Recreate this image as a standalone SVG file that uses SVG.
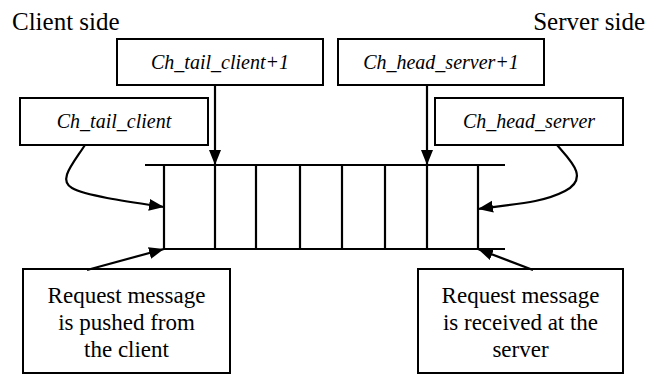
<svg xmlns="http://www.w3.org/2000/svg" width="657" height="374" viewBox="0 0 657 374">
<rect width="657" height="374" fill="#fff"/>
<defs>
<marker id="ah" markerUnits="userSpaceOnUse" markerWidth="16" markerHeight="14" viewBox="0 0 16 14" refX="15" refY="7" orient="auto">
<path d="M0,1 L15,7 L0,13 Z" fill="#000"/>
</marker>
</defs>
<text font-family="Times New Roman" font-size="25" x="12" y="30">Client side</text>
<text font-family="Times New Roman" font-size="25" x="645" y="30" text-anchor="end">Server side</text>
<g id="queue" fill="none" stroke="#000" stroke-width="2.2">
<line x1="145" y1="165" x2="505" y2="165"/>
<line x1="164" y1="249" x2="505" y2="249"/>
<line x1="164" y1="165" x2="164" y2="249"/>
<line x1="215" y1="165" x2="215" y2="249"/>
<line x1="256" y1="165" x2="256" y2="249"/>
<line x1="300" y1="165" x2="300" y2="249"/>
<line x1="342" y1="165" x2="342" y2="249"/>
<line x1="385" y1="165" x2="385" y2="249"/>
<line x1="427" y1="165" x2="427" y2="249"/>
<line x1="478" y1="165" x2="478" y2="249"/>
</g>
<g id="tail1">
<rect fill="#fff" stroke="#000" stroke-width="2" x="117" y="39" width="206" height="46"/>
<text font-family="Times New Roman" font-style="italic" font-size="20" text-anchor="middle" x="220" y="69">Ch_tail_client+1</text>
</g>
<g id="head1">
<rect fill="#fff" stroke="#000" stroke-width="2" x="338" y="39" width="206" height="46"/>
<text font-family="Times New Roman" font-style="italic" font-size="20" text-anchor="middle" x="441" y="69">Ch_head_server+1</text>
</g>
<g id="tail">
<rect fill="#fff" stroke="#000" stroke-width="2" x="20" y="98" width="188" height="47"/>
<text font-family="Times New Roman" font-style="italic" font-size="20" text-anchor="middle" x="114" y="128">Ch_tail_client</text>
</g>
<g id="head">
<rect fill="#fff" stroke="#000" stroke-width="2" x="435" y="98" width="188" height="47"/>
<text font-family="Times New Roman" font-style="italic" font-size="20" text-anchor="middle" x="529" y="128">Ch_head_server</text>
</g>
<g id="pushed">
<rect fill="#fff" stroke="#000" stroke-width="2" x="23" y="269" width="207" height="104"/>
<text font-family="Times New Roman" font-size="23" text-anchor="middle" x="126.5" y="303">Request message</text>
<text font-family="Times New Roman" font-size="23" text-anchor="middle" x="126.5" y="330">is pushed from</text>
<text font-family="Times New Roman" font-size="23" text-anchor="middle" x="126.5" y="357">the client</text>
</g>
<g id="received">
<rect fill="#fff" stroke="#000" stroke-width="2" x="418" y="269" width="205" height="104"/>
<text font-family="Times New Roman" font-size="23" text-anchor="middle" x="520.5" y="303">Request message</text>
<text font-family="Times New Roman" font-size="23" text-anchor="middle" x="520.5" y="330">is received at the</text>
<text font-family="Times New Roman" font-size="23" text-anchor="middle" x="520.5" y="357">server</text>
</g>
<g id="connectors" fill="none" stroke="#000" stroke-width="2.2">
<line x1="215" y1="85" x2="215" y2="165" marker-end="url(#ah)"/>
<line x1="427" y1="85" x2="427" y2="165" marker-end="url(#ah)"/>
<path d="M85,145 C72,165 58,180 72,188 S130,202 164,207" marker-end="url(#ah)"/>
<path d="M557,145 C570,160 590,178 565,191 S510,204 478,209" marker-end="url(#ah)"/>
<line x1="87" y1="270" x2="164" y2="249" marker-end="url(#ah)"/>
<line x1="533" y1="270" x2="478" y2="249" marker-end="url(#ah)"/>
</g>
</svg>
